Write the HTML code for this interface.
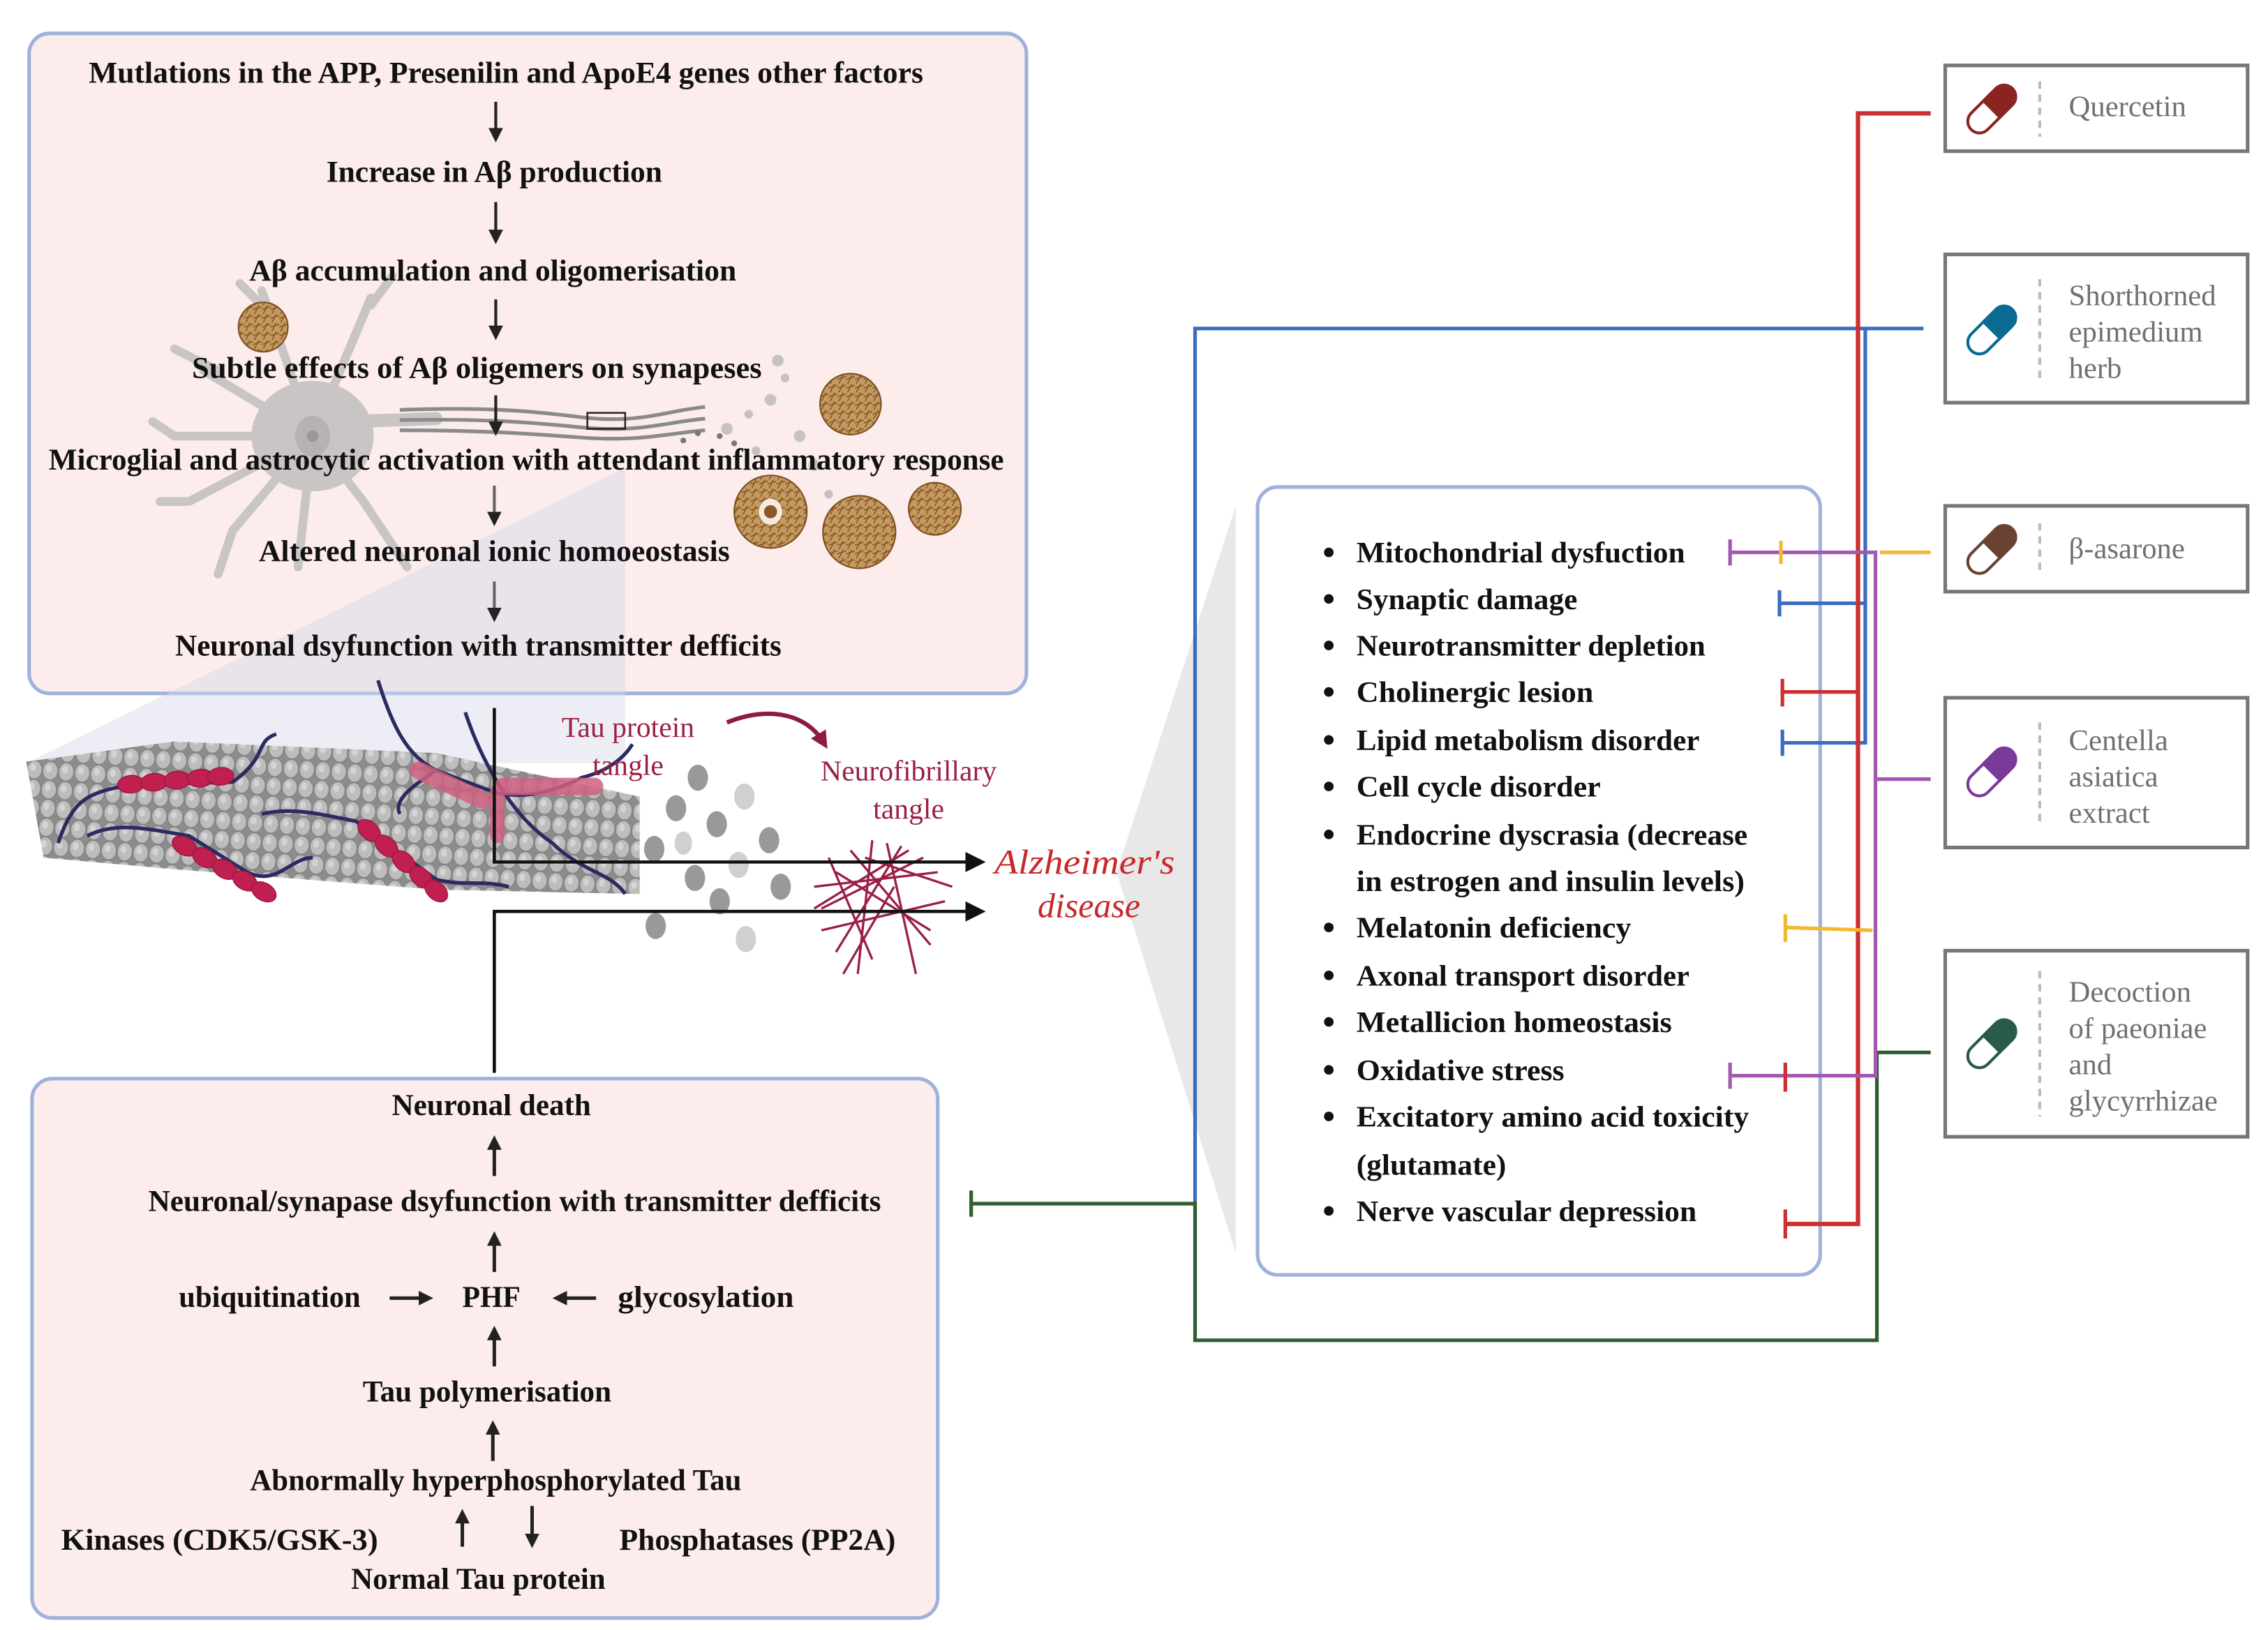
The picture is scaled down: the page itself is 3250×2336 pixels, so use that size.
<!DOCTYPE html>
<html><head><meta charset="utf-8"><style>
html,body{margin:0;padding:0;background:#fff;}
svg{display:block;}
text{font-family:"Liberation Serif",serif;}
</style></head><body>
<svg width="3250" height="2336" viewBox="0 0 1560 1121.3" xmlns="http://www.w3.org/2000/svg">
<defs>
<marker id="ah" markerWidth="10" markerHeight="10" refX="5" refY="5" orient="auto" markerUnits="userSpaceOnUse"><path d="M0,0 L10,5 L0,10 Z" fill="#222"/></marker>
<marker id="ahb" markerWidth="16" markerHeight="16" refX="8" refY="8" orient="auto" markerUnits="userSpaceOnUse"><path d="M0,1 L14,8 L0,15 Z" fill="#111"/></marker>
<marker id="ahr" markerWidth="12" markerHeight="12" refX="6" refY="6" orient="auto" markerUnits="userSpaceOnUse"><path d="M0,0 L12,6 L0,12 Z" fill="#8e1c40"/></marker>
<pattern id="tub" width="11" height="13" patternUnits="userSpaceOnUse" patternTransform="rotate(4)">
<rect width="11" height="13" fill="#8c8c8c"/>
<ellipse cx="5.5" cy="6.5" rx="5.2" ry="6.3" fill="#bdbdbd" stroke="#858585" stroke-width="0.7"/>
<ellipse cx="4.5" cy="5" rx="2" ry="2.6" fill="#d4d4d4"/>
</pattern>
<pattern id="plq" width="6" height="6" patternUnits="userSpaceOnUse">
<rect width="6" height="6" fill="#c49a62"/>
<path d="M0,3 L6,1 M1,6 L4,0" stroke="#8a5a24" stroke-width="0.8"/>
</pattern>
</defs>

<!-- middle wedge (behind everything) -->
<polygon points="768,600 850,348 850,862" fill="#e8e8e8"/>

<!-- TOP BOX -->
<rect x="20" y="23" width="686" height="454" rx="14" fill="#fcecec" stroke="#9fb2dc" stroke-width="2.5"/>
<polygon points="430,322 430,525 18,525" fill="#d8dae8" opacity="0.45"/>

<!-- neuron -->
<g fill="none" stroke="#c9c5c5" stroke-linecap="round">
<path d="M215,300 L120,300 M215,300 L140,255 M215,300 L180,200 M215,300 L255,205 M215,300 L250,345 L280,390 M215,300 L160,365 L150,395 M215,300 L205,390 M215,300 L130,345 L110,345 M150,255 L120,240 M180,210 L165,195 M255,210 L270,190 M120,300 L105,290" stroke-width="6"/>
<path d="M240,290 L300,288" stroke-width="9"/>
</g>
<ellipse cx="215" cy="300" rx="42" ry="38" fill="#c9c5c5"/>
<ellipse cx="215" cy="300" rx="12" ry="14" fill="#b7b2b2"/>
<circle cx="215" cy="300" r="4" fill="#999"/>
<g fill="none" stroke="#8a8a8a" stroke-width="2.5">
<path d="M275,282 C330,280 360,282 400,287 C440,292 460,282 485,280"/>
<path d="M275,289 C330,288 360,290 400,294 C440,298 460,290 485,288"/>
<path d="M275,296 C330,296 360,298 400,301 C440,304 460,298 485,296"/>
</g>
<rect x="404" y="284" width="26" height="11" fill="none" stroke="#222" stroke-width="1.2"/>
<g fill="#c6c2c2">
<circle cx="500" cy="295" r="4"/><circle cx="515" cy="285" r="3"/><circle cx="530" cy="275" r="4"/><circle cx="540" cy="260" r="3"/><circle cx="535" cy="248" r="4"/><circle cx="550" cy="300" r="4"/><circle cx="560" cy="320" r="4"/><circle cx="570" cy="340" r="3"/><circle cx="520" cy="310" r="3"/>
</g>
<g fill="#777"><circle cx="495" cy="300" r="2"/><circle cx="505" cy="305" r="2"/><circle cx="480" cy="298" r="2"/><circle cx="470" cy="303" r="2"/></g>
<g stroke="#7a4f22" stroke-width="1">
<circle cx="181" cy="225" r="17" fill="url(#plq)"/>
<circle cx="585" cy="278" r="21" fill="url(#plq)"/>
<circle cx="530" cy="352" r="25" fill="url(#plq)"/>
<circle cx="591" cy="366" r="25" fill="url(#plq)"/>
<circle cx="643" cy="350" r="18" fill="url(#plq)"/>
</g>
<ellipse cx="530" cy="352" rx="8" ry="9" fill="#f4eae0"/><circle cx="530" cy="352" r="4.5" fill="#8a5a24"/>

<g font-size="21" fill="#111" text-anchor="middle" font-weight="bold">
<text x="348" y="57" textLength="574" lengthAdjust="spacingAndGlyphs">Mutlations in the APP, Presenilin and ApoE4 genes other factors</text>
<text x="340" y="125" textLength="231" lengthAdjust="spacingAndGlyphs">Increase in Aβ production</text>
<text x="339" y="193" textLength="335" lengthAdjust="spacingAndGlyphs">Aβ accumulation and oligomerisation</text>
<text x="328" y="260" textLength="392" lengthAdjust="spacingAndGlyphs">Subtle effects of Aβ oligemers on synapeses</text>
<text x="362" y="323" textLength="657" lengthAdjust="spacingAndGlyphs">Microglial and astrocytic activation with attendant inflammatory response</text>
<text x="340" y="386" textLength="324" lengthAdjust="spacingAndGlyphs">Altered neuronal ionic homoeostasis</text>
<text x="329" y="451" textLength="417" lengthAdjust="spacingAndGlyphs">Neuronal dsyfunction with transmitter defficits</text>
</g>
<g stroke="#222" stroke-width="2">
<line x1="341" y1="70" x2="341" y2="93" marker-end="url(#ah)"/>
<line x1="341" y1="139" x2="341" y2="163" marker-end="url(#ah)"/>
<line x1="341" y1="206" x2="341" y2="229" marker-end="url(#ah)"/>
<line x1="341" y1="272" x2="341" y2="295" marker-end="url(#ah)"/>
<line x1="340" y1="334" x2="340" y2="357" stroke="#666" marker-end="url(#ah)"/>
<line x1="340" y1="400" x2="340" y2="423" stroke="#666" marker-end="url(#ah)"/>
</g>

<!-- microtubule -->
<polygon points="18,524 120,510 300,518 440,548 440,615 300,612 120,598 30,590" fill="url(#tub)"/>
<g fill="none" stroke="#2c2a60" stroke-width="2.5">
<path d="M40,580 C50,550 60,545 90,540 L160,538 C185,520 175,510 190,505"/>
<path d="M60,575 C80,565 100,570 130,575 L170,600 C190,610 200,590 215,590"/>
<path d="M180,560 C200,555 220,560 245,565 L300,605 C320,610 330,605 350,610"/>
<path d="M260,468 C270,500 280,520 300,530 L340,545 C360,550 380,545 400,535 C420,530 430,520 435,512"/>
<path d="M320,490 C330,520 350,560 380,580 C400,600 420,600 430,615"/>
<path d="M300,530 C285,540 270,550 275,560"/>
</g>
<g fill="#c02050" stroke="#a01840" stroke-width="0.8">
<g transform="rotate(-5 84 540)"><ellipse cx="90" cy="540" rx="9" ry="6"/><ellipse cx="106" cy="540" rx="9" ry="6"/><ellipse cx="122" cy="540" rx="9" ry="6"/><ellipse cx="138" cy="540" rx="9" ry="6"/><ellipse cx="152" cy="540" rx="9" ry="6"/></g>
<g transform="rotate(30 120 578)"><ellipse cx="128" cy="578" rx="9" ry="6"/><ellipse cx="144" cy="578" rx="9" ry="6"/><ellipse cx="160" cy="578" rx="9" ry="6"/><ellipse cx="176" cy="578" rx="9" ry="6"/><ellipse cx="191" cy="578" rx="9" ry="6"/></g>
<g transform="rotate(42 248 566)"><ellipse cx="256" cy="566" rx="9" ry="6"/><ellipse cx="272" cy="566" rx="9" ry="6"/><ellipse cx="288" cy="566" rx="9" ry="6"/><ellipse cx="304" cy="566" rx="9" ry="6"/><ellipse cx="318" cy="566" rx="9" ry="6"/></g>
</g>
<g fill="#d06080" opacity="0.85">
<rect x="285" y="522" width="60" height="12" rx="6" transform="rotate(25 285 522)"/>
<rect x="340" y="535" width="75" height="12" rx="6"/>
<rect x="337" y="540" width="10" height="40" rx="5"/>
</g>
<g fill="#999">
<ellipse cx="480" cy="535" rx="7" ry="9"/><ellipse cx="465" cy="556" rx="7" ry="9"/><ellipse cx="493" cy="567" rx="7" ry="9"/>
<ellipse cx="529" cy="578" rx="7" ry="9"/><ellipse cx="450" cy="584" rx="7" ry="9"/><ellipse cx="478" cy="604" rx="7" ry="9"/>
<ellipse cx="537" cy="610" rx="7" ry="9"/><ellipse cx="495" cy="620" rx="7" ry="9"/><ellipse cx="451" cy="637" rx="7" ry="9"/>
</g>
<g fill="#d0d0d0">
<ellipse cx="512" cy="548" rx="7" ry="9"/><ellipse cx="508" cy="595" rx="7" ry="9"/><ellipse cx="513" cy="646" rx="7" ry="9"/><ellipse cx="470" cy="580" rx="6" ry="8"/>
</g>
<!-- tangle -->
<g fill="none" stroke="#9b1f45" stroke-width="1.6">
<path d="M570,590 L600,660 M585,585 L640,650 M560,610 L645,600 M565,640 L650,620 M600,578 L590,670 M620,582 L575,655 M635,590 L565,625 M575,600 L640,640 M610,580 L630,670 M560,625 L625,585 M580,670 L615,610 M595,590 L655,610"/>
</g>
<text x="432" y="507" font-size="20" fill="#9b2042" text-anchor="middle">Tau protein</text>
<text x="432" y="533" font-size="20" fill="#9b2042" text-anchor="middle">tangle</text>
<text x="625" y="537" font-size="20" fill="#9b2042" text-anchor="middle">Neurofibrillary</text>
<text x="625" y="563" font-size="20" fill="#9b2042" text-anchor="middle">tangle</text>
<path d="M500,497 C530,485 555,492 566,510" fill="none" stroke="#8e1c40" stroke-width="3" marker-end="url(#ahr)"/>

<g stroke="#111" stroke-width="2.2" fill="none">
<polyline points="340,487 340,593 672,593" marker-end="url(#ahb)"/>
<polyline points="340,738 340,627 672,627" marker-end="url(#ahb)"/>
</g>
<text x="746" y="601" font-size="24" font-style="italic" fill="#c8282c" text-anchor="middle" textLength="124" lengthAdjust="spacingAndGlyphs">Alzheimer's</text>
<text x="749" y="631" font-size="24" font-style="italic" fill="#c8282c" text-anchor="middle">disease</text>

<!-- BOTTOM BOX -->
<rect x="22" y="742" width="623" height="371" rx="14" fill="#fcecec" stroke="#9fb2dc" stroke-width="2.5"/>
<g font-size="21" fill="#111" font-weight="bold">
<text x="338" y="767" text-anchor="middle" textLength="137" lengthAdjust="spacingAndGlyphs">Neuronal death</text>
<text x="354" y="833" text-anchor="middle" textLength="504" lengthAdjust="spacingAndGlyphs">Neuronal/synapase dsyfunction with transmitter defficits</text>
<text x="123" y="899" textLength="125" lengthAdjust="spacingAndGlyphs">ubiquitination</text>
<text x="318" y="899" textLength="40" lengthAdjust="spacingAndGlyphs">PHF</text>
<text x="425" y="899" textLength="121" lengthAdjust="spacingAndGlyphs">glycosylation</text>
<text x="335" y="964" text-anchor="middle" textLength="171" lengthAdjust="spacingAndGlyphs">Tau polymerisation</text>
<text x="341" y="1025" text-anchor="middle" textLength="338" lengthAdjust="spacingAndGlyphs">Abnormally hyperphosphorylated Tau</text>
<text x="42" y="1066" textLength="218" lengthAdjust="spacingAndGlyphs">Kinases (CDK5/GSK-3)</text>
<text x="426" y="1066" textLength="190" lengthAdjust="spacingAndGlyphs">Phosphatases (PP2A)</text>
<text x="329" y="1093" text-anchor="middle" textLength="175" lengthAdjust="spacingAndGlyphs">Normal Tau protein</text>
</g>
<g stroke="#222" stroke-width="2.4">
<line x1="340" y1="809" x2="340" y2="786" marker-end="url(#ah)"/>
<line x1="340" y1="875" x2="340" y2="852" marker-end="url(#ah)"/>
<line x1="340" y1="940" x2="340" y2="917" marker-end="url(#ah)"/>
<line x1="339" y1="1005" x2="339" y2="982" marker-end="url(#ah)"/>
<line x1="268" y1="893" x2="293" y2="893" marker-end="url(#ah)"/>
<line x1="410" y1="893" x2="385" y2="893" marker-end="url(#ah)"/>
<line x1="318" y1="1064" x2="318" y2="1043" marker-end="url(#ah)"/>
<line x1="366" y1="1036" x2="366" y2="1060" marker-end="url(#ah)"/>
</g>

<!-- middle box -->
<rect x="865" y="335" width="387" height="542" rx="14" fill="#fff" stroke="#9fb2dc" stroke-width="2.5"/>
<g fill="#111">
<circle cx="914" cy="380" r="3.3"/><circle cx="914" cy="412" r="3.3"/><circle cx="914" cy="444" r="3.3"/><circle cx="914" cy="476" r="3.3"/><circle cx="914" cy="509" r="3.3"/><circle cx="914" cy="541" r="3.3"/><circle cx="914" cy="574" r="3.3"/><circle cx="914" cy="638" r="3.3"/><circle cx="914" cy="671" r="3.3"/><circle cx="914" cy="703" r="3.3"/><circle cx="914" cy="736" r="3.3"/><circle cx="914" cy="768" r="3.3"/><circle cx="914" cy="833" r="3.3"/>
</g>
<g font-size="20.5" fill="#111" font-weight="bold">
<text x="933" y="387" textLength="226" lengthAdjust="spacingAndGlyphs">Mitochondrial dysfuction</text>
<text x="933" y="419" textLength="152" lengthAdjust="spacingAndGlyphs">Synaptic damage</text>
<text x="933" y="451" textLength="240" lengthAdjust="spacingAndGlyphs">Neurotransmitter depletion</text>
<text x="933" y="483" textLength="163" lengthAdjust="spacingAndGlyphs">Cholinergic lesion</text>
<text x="933" y="516" textLength="236" lengthAdjust="spacingAndGlyphs">Lipid metabolism disorder</text>
<text x="933" y="548" textLength="168" lengthAdjust="spacingAndGlyphs">Cell cycle disorder</text>
<text x="933" y="581" textLength="269" lengthAdjust="spacingAndGlyphs">Endocrine dyscrasia (decrease</text>
<text x="933" y="613" textLength="267" lengthAdjust="spacingAndGlyphs">in estrogen and insulin levels)</text>
<text x="933" y="645" textLength="189" lengthAdjust="spacingAndGlyphs">Melatonin deficiency</text>
<text x="933" y="678" textLength="229" lengthAdjust="spacingAndGlyphs">Axonal transport disorder</text>
<text x="933" y="710" textLength="217" lengthAdjust="spacingAndGlyphs">Metallicion homeostasis</text>
<text x="933" y="743" textLength="143" lengthAdjust="spacingAndGlyphs">Oxidative stress</text>
<text x="933" y="775" textLength="270" lengthAdjust="spacingAndGlyphs">Excitatory amino acid toxicity</text>
<text x="933" y="808" textLength="103" lengthAdjust="spacingAndGlyphs">(glutamate)</text>
<text x="933" y="840" textLength="234" lengthAdjust="spacingAndGlyphs">Nerve vascular depression</text>
</g>

<!-- connectors -->
<g fill="none" stroke-width="2.5">
<polyline points="1323,226 822,226 822,828" stroke="#3a6cc0"/>
<polyline points="1283,226 1283,511 1226,511" stroke="#3a6cc0"/>
<line x1="1283" y1="415" x2="1224" y2="415" stroke="#3a6cc0"/>
<line x1="1224" y1="406" x2="1224" y2="424" stroke="#3a6cc0"/>
<line x1="1226" y1="502" x2="1226" y2="520" stroke="#3a6cc0"/>
<polyline points="1328,724 1291,724 1291,922 822,922 822,828 668,828" stroke="#2f5f30"/>
<line x1="668" y1="819" x2="668" y2="837" stroke="#2f5f30"/>
<polyline points="1328,78 1278,78 1278,842 1228,842" stroke="#cc3030" stroke-width="3"/>
<line x1="1278" y1="476" x2="1226" y2="476" stroke="#cc3030"/>
<line x1="1226" y1="467" x2="1226" y2="486" stroke="#cc3030"/>
<line x1="1228" y1="832" x2="1228" y2="852" stroke="#cc3030"/>
<polyline points="1190,380 1290,380 1290,740 1190,740" stroke="#a25ab0"/>
<line x1="1290" y1="536" x2="1328" y2="536" stroke="#a25ab0"/>
<line x1="1190" y1="371" x2="1190" y2="389" stroke="#a25ab0"/>
<line x1="1190" y1="731" x2="1190" y2="749" stroke="#a25ab0"/>
<line x1="1228" y1="731" x2="1228" y2="751" stroke="#cc3030"/>
<line x1="1293" y1="380" x2="1328" y2="380" stroke="#f2b830"/>
<line x1="1225" y1="372" x2="1225" y2="388" stroke="#f2b830"/>
<polyline points="1288,640 1228,638" stroke="#f2b830"/>
<line x1="1228" y1="629" x2="1228" y2="648" stroke="#f2b830"/>
</g>

<!-- drug boxes -->
<g fill="#fff" stroke="#777" stroke-width="2.5">
<rect x="1338" y="45" width="208" height="59"/>
<rect x="1338" y="175" width="208" height="102"/>
<rect x="1338" y="348" width="208" height="59"/>
<rect x="1338" y="480" width="208" height="103"/>
<rect x="1338" y="654" width="208" height="128"/>
</g>
<g stroke="#bbb" stroke-width="2" stroke-dasharray="5,4">
<line x1="1403" y1="56" x2="1403" y2="94"/>
<line x1="1403" y1="192" x2="1403" y2="262"/>
<line x1="1403" y1="360" x2="1403" y2="396"/>
<line x1="1403" y1="497" x2="1403" y2="567"/>
<line x1="1403" y1="668" x2="1403" y2="768"/>
</g>
<g stroke-width="2">
<g transform="translate(1370,75) rotate(-45)"><rect x="-20" y="-8" width="40" height="16" rx="8" fill="#fff" stroke="#8b2420"/><path d="M0,-8 L12,-8 A8,8 0 0 1 12,8 L0,8 Z" fill="#8b2420" stroke="#8b2420"/></g>
<g transform="translate(1370,227) rotate(-45)"><rect x="-20" y="-8" width="40" height="16" rx="8" fill="#fff" stroke="#0b6a94"/><path d="M0,-8 L12,-8 A8,8 0 0 1 12,8 L0,8 Z" fill="#0b6a94" stroke="#0b6a94"/></g>
<g transform="translate(1370,378) rotate(-45)"><rect x="-20" y="-8" width="40" height="16" rx="8" fill="#fff" stroke="#6a4232"/><path d="M0,-8 L12,-8 A8,8 0 0 1 12,8 L0,8 Z" fill="#6a4232" stroke="#6a4232"/></g>
<g transform="translate(1370,531) rotate(-45)"><rect x="-20" y="-8" width="40" height="16" rx="8" fill="#fff" stroke="#7a3a9a"/><path d="M0,-8 L12,-8 A8,8 0 0 1 12,8 L0,8 Z" fill="#7a3a9a" stroke="#7a3a9a"/></g>
<g transform="translate(1370,718) rotate(-45)"><rect x="-20" y="-8" width="40" height="16" rx="8" fill="#fff" stroke="#2a5a48"/><path d="M0,-8 L12,-8 A8,8 0 0 1 12,8 L0,8 Z" fill="#2a5a48" stroke="#2a5a48"/></g>
</g>
<g font-size="20.5" fill="#707070">
<text x="1423" y="80">Quercetin</text>
<text x="1423" y="210">Shorthorned</text>
<text x="1423" y="235">epimedium</text>
<text x="1423" y="260">herb</text>
<text x="1423" y="384">β-asarone</text>
<text x="1423" y="516">Centella</text>
<text x="1423" y="541">asiatica</text>
<text x="1423" y="566">extract</text>
<text x="1423" y="689">Decoction</text>
<text x="1423" y="714">of paeoniae</text>
<text x="1423" y="739">and</text>
<text x="1423" y="764">glycyrrhizae</text>
</g>
</svg>
</body></html>
